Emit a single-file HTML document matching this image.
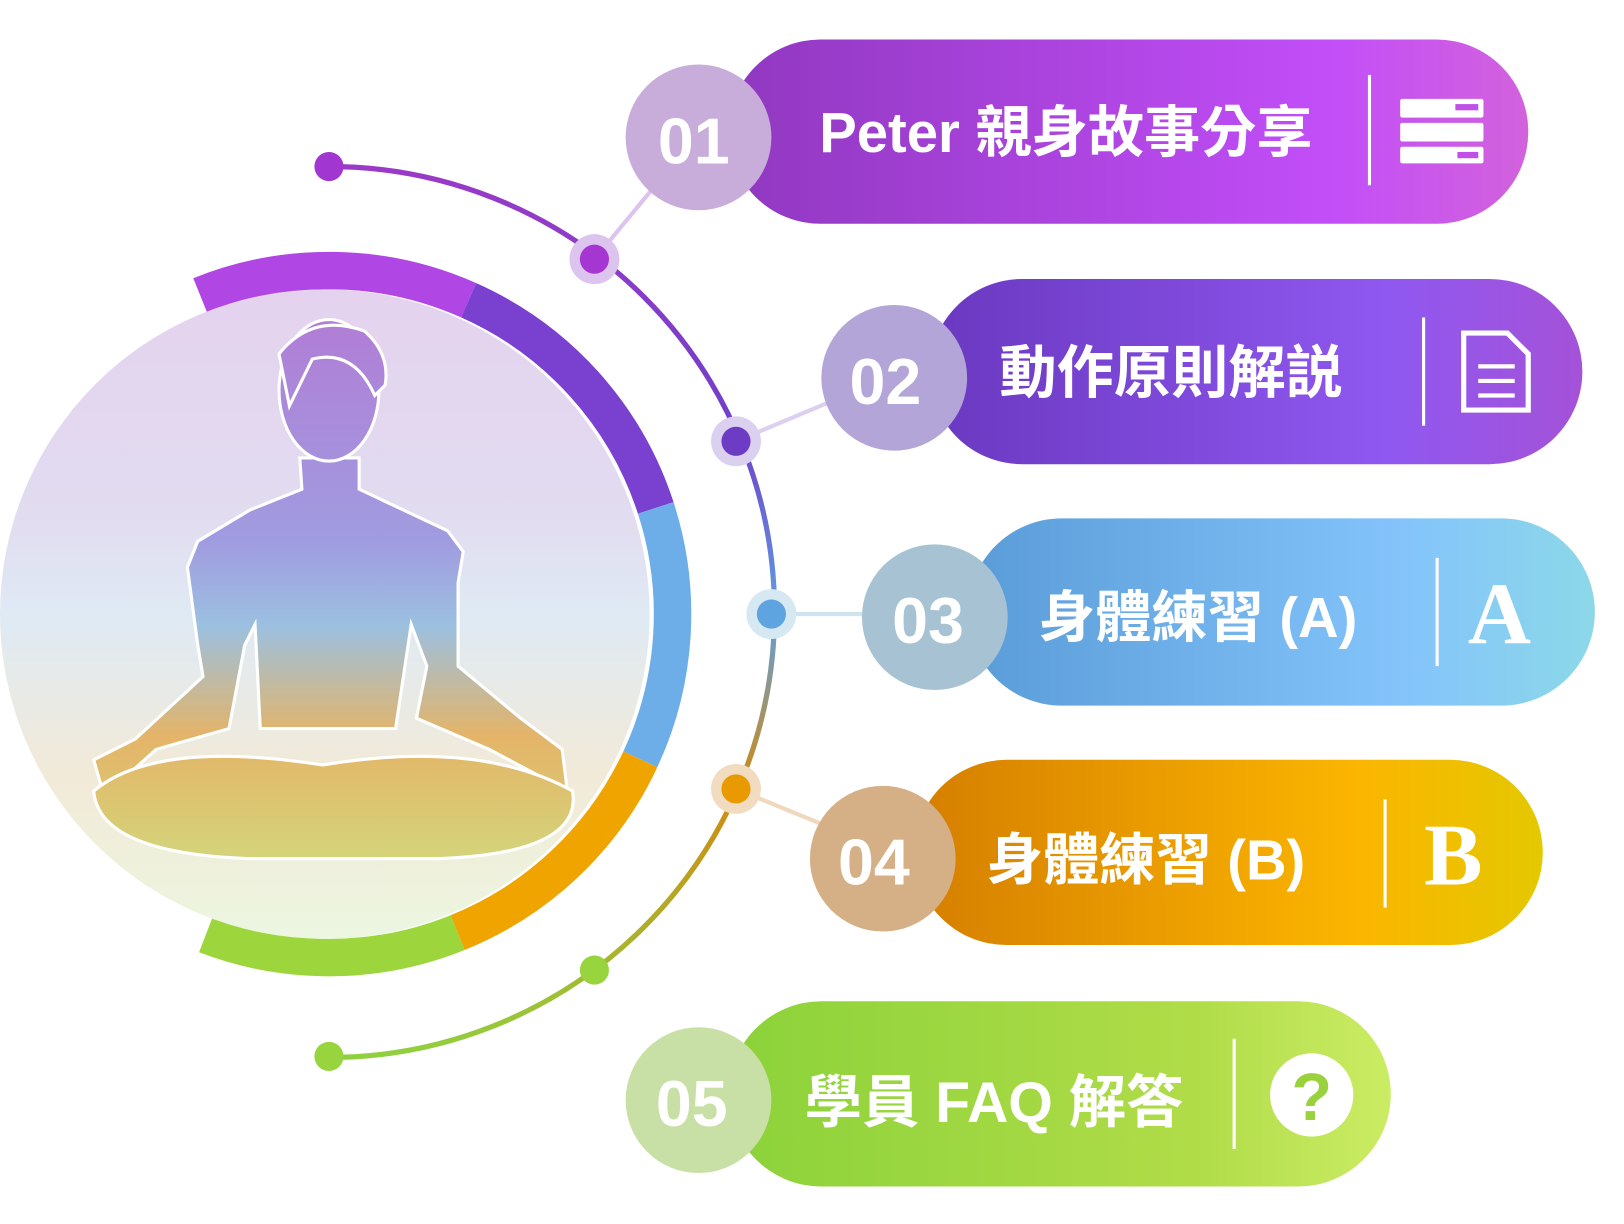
<!DOCTYPE html>
<html><head><meta charset="utf-8"><style>
html,body{margin:0;padding:0;background:#fff;width:1624px;height:1224px;overflow:hidden}
svg{display:block}
text{font-family:"Liberation Sans","Noto Sans CJK TC",sans-serif;font-weight:bold;fill:#fff}
</style></head><body>
<svg width="1624" height="1224" viewBox="0 0 1560 1176" preserveAspectRatio="none">
<defs>
<linearGradient id="g1" x1="0" x2="1"><stop offset="0" stop-color="#9038c0"/><stop offset="0.75" stop-color="#c24ef8"/><stop offset="1" stop-color="#d262dc"/></linearGradient>
<linearGradient id="g2" x1="0" x2="1"><stop offset="0" stop-color="#6a38c0"/><stop offset="0.7" stop-color="#8f58f0"/><stop offset="1" stop-color="#a452d8"/></linearGradient>
<linearGradient id="g3" x1="0" x2="1"><stop offset="0" stop-color="#5a9cd8"/><stop offset="0.7" stop-color="#84c4fb"/><stop offset="1" stop-color="#8cd8e8"/></linearGradient>
<linearGradient id="g4" x1="0" x2="1"><stop offset="0" stop-color="#d57e00"/><stop offset="0.7" stop-color="#fbb500"/><stop offset="1" stop-color="#e4c800"/></linearGradient>
<linearGradient id="g5" x1="0" x2="1"><stop offset="0" stop-color="#8cd23a"/><stop offset="0.7" stop-color="#b0dc48"/><stop offset="1" stop-color="#cbec64"/></linearGradient>
<linearGradient id="arc" x1="0" y1="0" x2="0" y2="1"><stop offset="0" stop-color="#9a3ac8"/><stop offset="0.3" stop-color="#7040c8"/><stop offset="0.5" stop-color="#5f9fe0"/><stop offset="0.7" stop-color="#d08a10"/><stop offset="1" stop-color="#90d040"/></linearGradient>
<linearGradient id="bg" x1="0" y1="0" x2="0" y2="1"><stop offset="0" stop-color="#e4d2ee"/><stop offset="0.35" stop-color="#e2dcf0"/><stop offset="0.5" stop-color="#dfeaf4"/><stop offset="0.75" stop-color="#f2ead8"/><stop offset="1" stop-color="#ecf6e0"/></linearGradient>
<linearGradient id="fig" gradientUnits="userSpaceOnUse" x1="0" y1="310" x2="0" y2="840"><stop offset="0" stop-color="#b07ed6"/><stop offset="0.4" stop-color="#a09ce0"/><stop offset="0.55" stop-color="#9cc0e0"/><stop offset="0.75" stop-color="#e4b468"/><stop offset="1" stop-color="#d2d87c"/></linearGradient>
</defs>

<g fill="none" stroke-width="36">
<path d="M192.4 284 A330 330 0 0 1 450.2 288.5" stroke="#b046e4"/>
<path d="M450.2 288.5 A330 330 0 0 1 629.9 488" stroke="#7a40d0"/>
<path d="M629.9 488 A330 330 0 0 1 615.1 729.5" stroke="#6eaee8"/>
<path d="M615.1 729.5 A330 330 0 0 1 439.6 896" stroke="#f0a400"/>
<path d="M439.6 896 A330 330 0 0 1 197.7 898.1" stroke="#9cd63c"/>
</g>
<circle cx="312" cy="590" r="312" fill="url(#bg)"/>
<g fill="url(#fig)" stroke="#fff" stroke-width="3">
<path d="M288 440 L290 470 L240 490 L190 520 L180 545 L190 620 L195 650 L130 710 L90 730 L100 765 L150 720 L220 700 L235 620 L245 600 L250 700 L380 700 L395 600 L410 640 L400 690 L470 720 L545 760 L540 720 L500 690 L440 640 L440 560 L445 530 L430 510 L345 470 L345 440 Z"/>
<ellipse cx="316" cy="375" rx="48" ry="68"/>
<path d="M268 340 Q300 300 350 318 Q375 340 370 370 L360 380 Q340 335 300 345 L278 390 Z"/>
<path d="M90 760 Q150 710 310 735 Q460 710 550 760 Q560 820 420 825 L240 825 Q95 820 90 760 Z"/>
</g>
<path d="M316 160 A428 428 0 0 1 316 1016" fill="none" stroke="url(#arc)" stroke-width="5"/>
<circle cx="316" cy="160" r="14" fill="#a236d0"/>
<circle cx="316" cy="1015" r="14" fill="#98d43e"/>
<g stroke-width="4">
<line x1="571" y1="249" x2="628" y2="180" stroke="#dcc4ee"/>
<line x1="707" y1="424" x2="800" y2="385" stroke="#dcd0f0"/>
<line x1="741" y1="590" x2="835" y2="590" stroke="#cfe2ee"/>
<line x1="707" y1="758" x2="790" y2="792" stroke="#f0d8bc"/>
</g>
<circle cx="571" cy="249" r="24" fill="#dcc4ee"/><circle cx="571" cy="249" r="14" fill="#a536d2"/>
<circle cx="707" cy="424" r="24" fill="#dcd0f0"/><circle cx="707" cy="424" r="14" fill="#6d3cc4"/>
<circle cx="741" cy="590" r="24" fill="#d6e8f2"/><circle cx="741" cy="590" r="14" fill="#5ea4e0"/>
<circle cx="707" cy="758" r="24" fill="#f2dcc0"/><circle cx="707" cy="758" r="14" fill="#e89a00"/>
<circle cx="571" cy="932" r="14" fill="#98d43e"/>

<rect x="700" y="38" width="768" height="177" rx="88" fill="url(#g1)"/>
<circle cx="671" cy="132" r="70" fill="#c8addb"/>
<text x="632" y="157" font-size="62">01</text>
<text x="787" y="146" font-size="54">Peter 親身故事分享</text>
<rect x="1314" y="72" width="3" height="106" fill="#fff"/>
<g fill="#fff"><rect x="1345" y="95" width="80" height="18" rx="2"/><rect x="1345" y="118" width="80" height="18" rx="2"/><rect x="1345" y="141" width="80" height="16" rx="2"/></g>
<g fill="#c050e8"><rect x="1398" y="100" width="22" height="6"/><rect x="1400" y="146" width="20" height="6"/></g>

<rect x="893" y="268" width="627" height="178" rx="89" fill="url(#g2)"/>
<circle cx="859" cy="363" r="70" fill="#b3a5d8"/>
<text x="816" y="388" font-size="62">02</text>
<text x="960" y="377" font-size="55">動作原則解説</text>
<rect x="1366" y="305" width="3" height="104" fill="#fff"/>
<path d="M1406 320 L1448 320 L1468 340 L1468 394 L1406 394 Z" fill="none" stroke="#fff" stroke-width="5"/>
<path d="M1420 352 H1455 M1420 366 H1455 M1420 380 H1455" stroke="#fff" stroke-width="4"/>

<rect x="930" y="498" width="602" height="180" rx="90" fill="url(#g3)"/>
<circle cx="898" cy="593" r="70" fill="#a7c3d3"/>
<text x="857" y="618" font-size="62">03</text>
<text x="998" y="612" font-size="54">身體練習 (A)</text>
<rect x="1379" y="536" width="3" height="104" fill="#fff"/>
<text x="1410" y="618" font-size="84" style="font-family:'Liberation Serif',serif">A</text>

<rect x="878" y="730" width="604" height="178" rx="89" fill="url(#g4)"/>
<circle cx="848" cy="825" r="70" fill="#d5b086"/>
<text x="805" y="850" font-size="62">04</text>
<text x="948" y="845" font-size="54">身體練習 (B)</text>
<rect x="1329" y="768" width="3" height="104" fill="#fff"/>
<text x="1368" y="850" font-size="84" style="font-family:'Liberation Serif',serif">B</text>

<rect x="700" y="962" width="636" height="178" rx="89" fill="url(#g5)"/>
<circle cx="671" cy="1057" r="70" fill="#c8dfa5"/>
<text x="630" y="1082" font-size="62">05</text>
<text x="773" y="1078" font-size="55">學員 FAQ 解答</text>
<rect x="1184" y="998" width="3" height="106" fill="#fff"/>
<circle cx="1260" cy="1052" r="40" fill="#fff"/>
<text x="1260" y="1076" font-size="64" text-anchor="middle" style="fill:#9ad23e">?</text>
</svg>
</body></html>
